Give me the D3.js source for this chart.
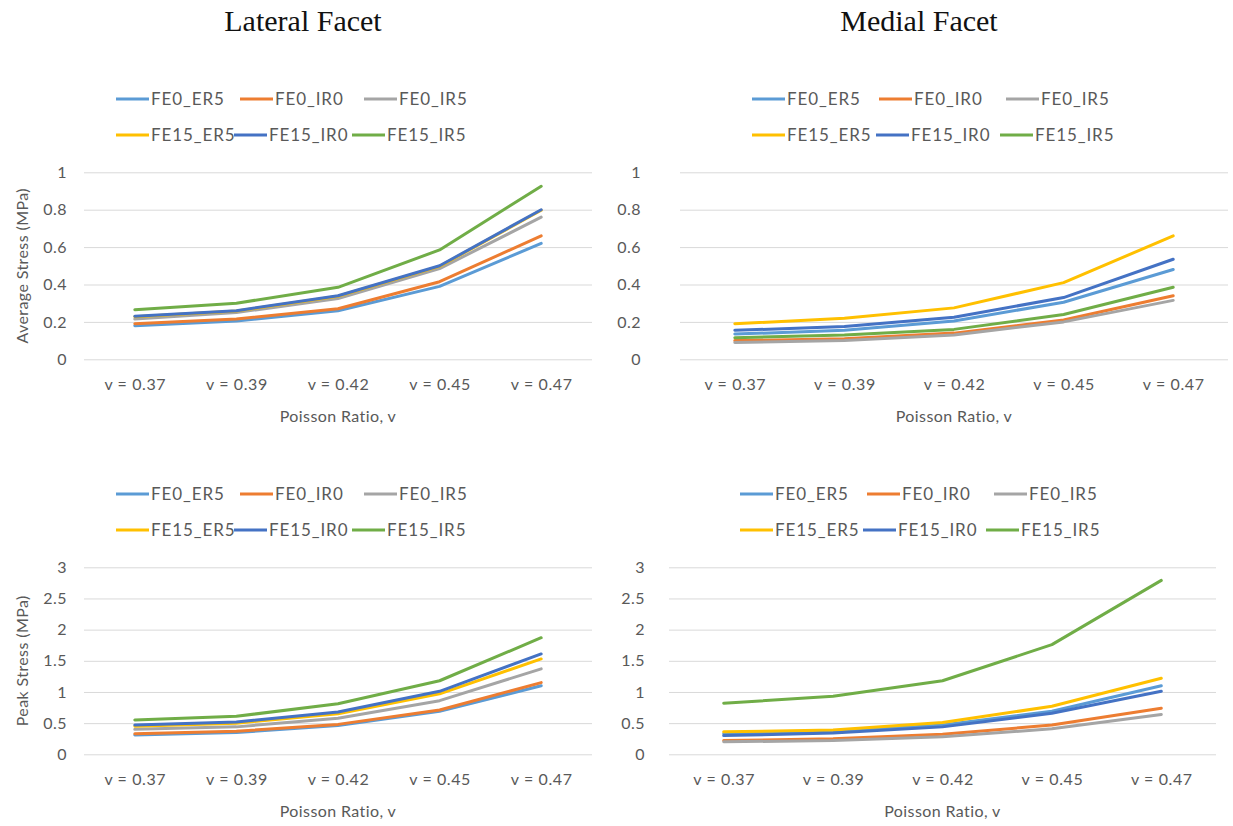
<!DOCTYPE html>
<html>
<head>
<meta charset="utf-8">
<script src="https://cdn.jsdelivr.net/npm/d3@7"></script>
<style>
  html, body { margin: 0; padding: 0; background: #ffffff; }
  svg { display: block; }
  .tick text, .lbl { font-family: "Lato", "Open Sans", sans-serif; fill: #595959; }
</style>
</head>
<body>
<svg id="chart" width="1233" height="826"></svg>
<script>
// Poisson ratio categories shared by all four panels
const categories = ["v = 0.37", "v = 0.39", "v = 0.42", "v = 0.45", "v = 0.47"];

// Load-case series, in drawing order
const seriesNames = ["FE0_ER5", "FE0_IR0", "FE0_IR5", "FE15_ER5", "FE15_IR0", "FE15_IR5"];
const seriesColors = ["#5B9BD5", "#ED7D31", "#A5A5A5", "#FFC000", "#4472C4", "#70AD47"];

// Axis ticks
const avgTicks = [0, 0.2, 0.4, 0.6, 0.8, 1];
const peakTicks = [0, 0.5, 1, 1.5, 2, 2.5, 3];

// Average stress (MPa), lateral facet — one row per series
const lateralAverage = [
  [0.18, 0.205, 0.26, 0.39, 0.62],
  [0.19, 0.215, 0.27, 0.415, 0.66],
  [0.215, 0.25, 0.325, 0.485, 0.76],
  [0.228, 0.258, 0.337, 0.497, 0.797],
  [0.23, 0.26, 0.34, 0.50, 0.80],
  [0.265, 0.30, 0.385, 0.585, 0.925]
];

// Average stress (MPa), medial facet
const medialAverage = [
  [0.135, 0.155, 0.205, 0.305, 0.48],
  [0.10, 0.11, 0.14, 0.21, 0.34],
  [0.09, 0.10, 0.13, 0.20, 0.315],
  [0.19, 0.22, 0.275, 0.41, 0.66],
  [0.155, 0.175, 0.225, 0.33, 0.535],
  [0.115, 0.13, 0.16, 0.24, 0.385]
];

// Peak stress (MPa), lateral facet
const lateralPeak = [
  [0.31, 0.35, 0.46, 0.69, 1.10],
  [0.33, 0.37, 0.48, 0.71, 1.15],
  [0.40, 0.44, 0.58, 0.86, 1.37],
  [0.45, 0.50, 0.65, 0.97, 1.53],
  [0.47, 0.52, 0.68, 1.01, 1.61],
  [0.55, 0.61, 0.81, 1.18, 1.87]
];

// Peak stress (MPa), medial facet
const medialPeak = [
  [0.33, 0.36, 0.47, 0.69, 1.10],
  [0.22, 0.25, 0.32, 0.47, 0.74],
  [0.20, 0.22, 0.28, 0.41, 0.64],
  [0.36, 0.39, 0.51, 0.77, 1.22],
  [0.30, 0.34, 0.44, 0.66, 1.01],
  [0.82, 0.93, 1.18, 1.76, 2.79]
];

const svg = d3.select("#chart");

// Column headings
const headings = [
  { text: "Lateral Facet", x: 303 },
  { text: "Medial Facet", x: 919 }
];
svg.selectAll("text.heading")
  .data(headings)
  .join("text")
  .attr("class", "heading")
  .attr("x", d => d.x)
  .attr("y", 31)
  .attr("text-anchor", "middle")
  .attr("font-family", "'Liberation Serif', 'Times New Roman', serif")
  .attr("font-size", 30)
  .attr("fill", "#111")
  .text(d => d.text);

// Panel layouts
const panels = [
  { data: lateralAverage, ticks: avgTicks, yMax: 1, yTitle: "Average Stress (MPa)",
    x0: 84, x1: 592, yTop: 172.3, yBottom: 359.3, tickRight: 67,
    legendX: 116, legendY: 99, legendCols: [124, 118] },
  { data: medialAverage, ticks: avgTicks, yMax: 1, yTitle: null,
    x0: 680, x1: 1228, yTop: 172.3, yBottom: 359.3, tickRight: 641,
    legendX: 752, legendY: 99, legendCols: [127, 124] },
  { data: lateralPeak, ticks: peakTicks, yMax: 3, yTitle: "Peak Stress (MPa)",
    x0: 84, x1: 592, yTop: 567.3, yBottom: 754.3, tickRight: 67,
    legendX: 116, legendY: 494, legendCols: [124, 118] },
  { data: medialPeak, ticks: peakTicks, yMax: 3, yTitle: null,
    x0: 669, x1: 1216, yTop: 567.3, yBottom: 754.3, tickRight: 645,
    legendX: 740, legendY: 494, legendCols: [127, 123] }
];

const fmt = d => String(+d.toFixed(1));

panels.forEach(p => {
  const g = svg.append("g");
  const x = d3.scalePoint().domain(categories).range([p.x0, p.x1]).padding(0.5);
  const y = d3.scaleLinear().domain([0, p.yMax]).range([p.yBottom, p.yTop]);

  // Horizontal gridlines with value labels
  const yAxis = g.append("g")
    .attr("transform", `translate(${p.x0},0)`)
    .call(d3.axisLeft(y)
      .tickValues(p.ticks)
      .tickFormat(fmt)
      .tickSizeInner(-(p.x1 - p.x0))
      .tickSizeOuter(0)
      .tickPadding(p.x0 - p.tickRight));
  yAxis.select(".domain").remove();
  yAxis.selectAll(".tick line").attr("stroke", "#d9d9d9").attr("stroke-width", 1);
  yAxis.selectAll(".tick text").attr("font-size", 16).attr("letter-spacing", 0.5);

  // Category labels
  const xAxis = g.append("g")
    .attr("transform", `translate(0,${p.yBottom})`)
    .call(d3.axisBottom(x).tickSize(0).tickPadding(19));
  xAxis.select(".domain").remove();
  xAxis.selectAll(".tick text").attr("font-size", 16).attr("letter-spacing", 0.6);

  // Axis titles
  g.append("text")
    .attr("class", "lbl")
    .attr("x", (p.x0 + p.x1) / 2)
    .attr("y", p.yBottom + 63)
    .attr("text-anchor", "middle")
    .attr("font-size", 16)
    .attr("letter-spacing", 0.4)
    .text("Poisson Ratio, v");

  if (p.yTitle) {
    g.append("text")
      .attr("class", "lbl")
      .attr("transform", `translate(28,${(p.yTop + p.yBottom) / 2}) rotate(-90)`)
      .attr("text-anchor", "middle")
      .attr("font-size", 16)
      .attr("letter-spacing", 0.4)
      .text(p.yTitle);
  }

  // Series lines
  const line = d3.line()
    .x((d, i) => x(categories[i]))
    .y(d => y(d));
  g.selectAll("path.series")
    .data(p.data)
    .join("path")
    .attr("class", "series")
    .attr("fill", "none")
    .attr("stroke", (d, i) => seriesColors[i])
    .attr("stroke-width", 3)
    .attr("stroke-linejoin", "round")
    .attr("stroke-linecap", "round")
    .attr("d", line);

  // Legend: two rows of three entries
  const rowH = 36;
  const items = g.selectAll("g.legend-item")
    .data(seriesNames)
    .join("g")
    .attr("class", "legend-item")
    .attr("transform", (d, i) => {
      const row = Math.floor(i / 3), col = i % 3;
      return `translate(${p.legendX + col * p.legendCols[row]},${p.legendY + row * rowH})`;
    });
  items.append("line")
    .attr("x1", 0).attr("x2", 33)
    .attr("y1", 0).attr("y2", 0)
    .attr("stroke", (d, i) => seriesColors[i])
    .attr("stroke-width", 3);
  items.append("text")
    .attr("class", "lbl")
    .attr("x", 35)
    .attr("y", 0)
    .attr("dy", "0.35em")
    .attr("font-size", 17)
    .attr("letter-spacing", 0.9)
    .text(d => d);
});
</script>
</body>
</html>
